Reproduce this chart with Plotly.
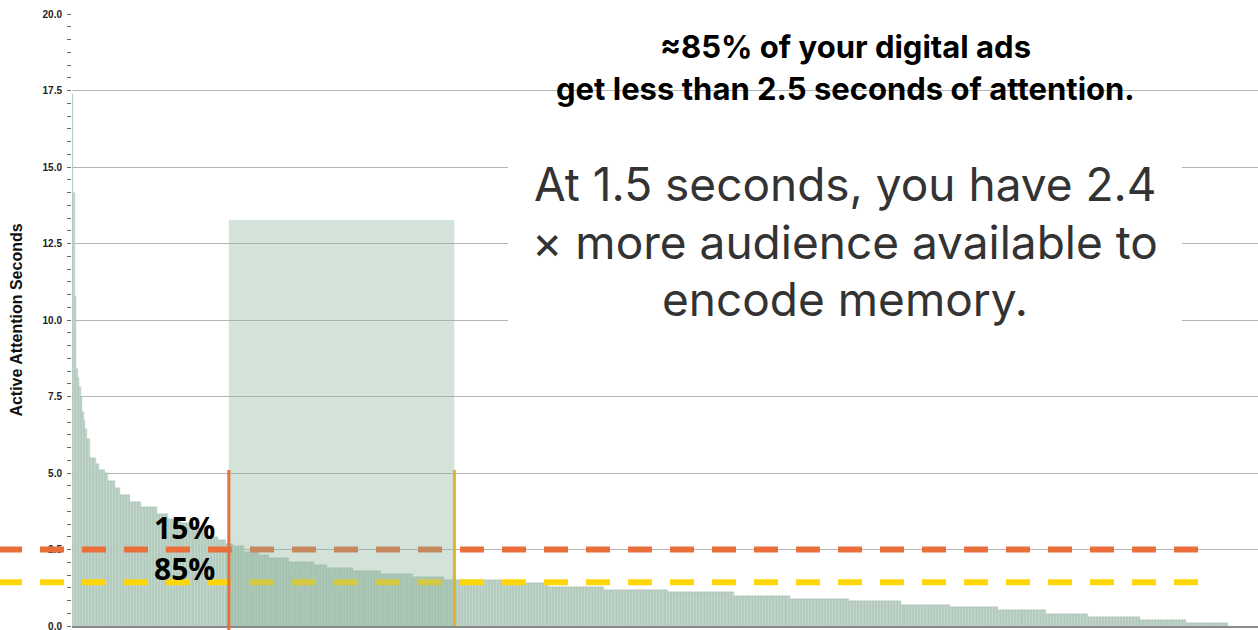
import numpy as np
import plotly.graph_objects as go

# Active attention per ad (seconds), sorted from highest to lowest.
# Stored run-length encoded: each level and how many ads sit at that level.
attention_levels = [17.4, 14.15, 10.8, 8.4, 8.1, 7.8, 7.5, 7.0, 6.7, 6.45,
                    6.1, 5.5, 5.3, 5.1, 5.0, 4.75, 4.5, 4.27, 4.05, 3.88,
                    3.65, 3.5, 3.38, 3.2, 2.91, 2.81, 2.68, 2.6, 2.42, 2.32,
                    2.22, 2.09, 1.99, 1.90, 1.80, 1.70, 1.60, 1.50, 1.42, 1.28,
                    1.18, 1.11, 0.99, 0.89, 0.81, 0.69, 0.61, 0.51, 0.39, 0.30,
                    0.21, 0.09]
ads_per_level = [1, 1, 1, 1, 1, 1, 1, 1, 1, 1,
                 2, 4, 2, 4, 2, 5, 3, 7, 7, 11,
                 7, 9, 9, 9, 7, 5, 5, 7, 10, 7,
                 13, 17, 9, 17, 19, 21, 21, 39, 31, 37,
                 43, 44, 38, 39, 35, 33, 32, 32, 28, 35,
                 31, 28]

# Attention thresholds (seconds)
upper_threshold = 2.5
lower_threshold = 1.43

# Ad-rank window between the two thresholds, and its marker heights
window_start_rank = 104.5
window_end_rank = 255.5
window_top = 13.27
marker_top = 5.1
marker_bottom = -0.13
dash_end_rank = 754

y_tick_values = [0, 2.5, 5, 7.5, 10, 12.5, 15, 17.5, 20]
y_tick_labels = ["0.0", "2.5", "5.0", "7.5", "10.0", "12.5", "15.0", "17.5", "20.0"]

attention = np.repeat(attention_levels, ads_per_level)
ranks = np.arange(len(attention))

X_RANGE = [-0.5, len(attention) - 0.5 + 20]
Y_RANGE = [0, 20]

W, H = 1258, 630
M = dict(l=72, r=0, t=14, b=4)
PLOT_W = W - M["l"] - M["r"]
PLOT_H = H - M["t"] - M["b"]


def x_dom(v):
    return (v - X_RANGE[0]) / (X_RANGE[1] - X_RANGE[0])


def y_dom(v):
    return (v - Y_RANGE[0]) / (Y_RANGE[1] - Y_RANGE[0])


def px_x(p):
    return (p - M["l"]) / PLOT_W


def px_y(p):
    return (H - M["b"] - p) / PLOT_H


ORANGE = "#E96E3A"
YELLOW = "#FFD60A"
GOLD = "#E0B232"

fig = go.Figure()
fig.add_trace(go.Bar(
    x=ranks, y=attention, width=1,
    marker=dict(color="#c6dccf", line=dict(color="#93ab9e", width=0.3)),
    hoverinfo="skip",
))

shapes = []
# threshold dashes, running from the left page edge across the chart
for level, color in [(upper_threshold, ORANGE), (lower_threshold, YELLOW)]:
    shapes.append(dict(
        type="line", xref="paper", yref="y domain",
        x0=px_x(-2), x1=x_dom(dash_end_rank), y0=y_dom(level), y1=y_dom(level),
        line=dict(color=color, width=6, dash="24px,18px"), layer="above",
    ))
# shaded window
shapes.append(dict(
    type="rect", xref="x domain", yref="y domain",
    x0=x_dom(window_start_rank), x1=x_dom(window_end_rank),
    y0=y_dom(0), y1=y_dom(window_top),
    fillcolor="rgba(142,181,155,0.38)", line=dict(width=0), layer="above",
))
# vertical markers at the window edges
shapes.append(dict(
    type="line", xref="x domain", yref="y domain",
    x0=x_dom(window_start_rank), x1=x_dom(window_start_rank),
    y0=y_dom(marker_bottom), y1=y_dom(marker_top),
    line=dict(color=ORANGE, width=3), layer="above",
))
shapes.append(dict(
    type="line", xref="x domain", yref="y domain",
    x0=x_dom(window_end_rank), x1=x_dom(window_end_rank),
    y0=y_dom(0), y1=y_dom(marker_top),
    line=dict(color=GOLD, width=3), layer="above",
))
# white panel behind the large statement
shapes.append(dict(
    type="rect", xref="paper", yref="paper",
    x0=px_x(508), x1=px_x(1182), y0=px_y(338), y1=px_y(132),
    fillcolor="white", line=dict(width=0), layer="above",
))

annotations = []
headline = ["≈85% of your digital ads", "get less than 2.5 seconds of attention."]
for text, py in zip(headline, [46, 88]):
    annotations.append(dict(
        text=text, xref="paper", yref="paper", x=px_x(845), y=px_y(py),
        xanchor="center", yanchor="middle", showarrow=False,
        font=dict(family="Inter", size=31, color="#000000", weight="bold"),
    ))
statement = ["At 1.5 seconds, you have 2.4", "× more audience available to", "encode memory."]
for text, py in zip(statement, [184, 242, 299]):
    annotations.append(dict(
        text=text, xref="paper", yref="paper", x=px_x(845), y=px_y(py),
        xanchor="center", yanchor="middle", showarrow=False,
        font=dict(family="Inter", size=46, color="#333333"),
    ))
for text, py in [("15%", 527), ("85%", 568)]:
    annotations.append(dict(
        text=text, xref="paper", yref="paper", x=px_x(184), y=px_y(py),
        xanchor="center", yanchor="middle", showarrow=False,
        font=dict(family="Open Sans", size=30, color="#000000", weight="bold"),
    ))

fig.update_layout(
    width=W, height=H, margin=dict(**M, pad=0, autoexpand=False),
    paper_bgcolor="white", plot_bgcolor="white",
    showlegend=False, bargap=0,
    shapes=shapes, annotations=annotations,
    xaxis=dict(
        range=X_RANGE, showgrid=False, zeroline=False, showticklabels=False,
        ticks="", showline=True, linecolor="#8a8a8a", linewidth=1.5,
        automargin=False,
    ),
    yaxis=dict(
        range=Y_RANGE, tickvals=y_tick_values, ticktext=y_tick_labels,
        automargin=False,
        showgrid=True, gridcolor="#b4b4b4", gridwidth=1.2, zeroline=False,
        showline=False, ticks="outside", ticklen=3, tickcolor="#666666",
        ticklabelstandoff=4, ticklabeloverflow="allow",
        tickfont=dict(family="Liberation Sans, Arial", size=10, color="#222222", weight="bold"),
        minor=dict(dtick=2.5 / 6, tick0=0, ticks="outside", ticklen=4,
                   tickcolor="#666666", showgrid=False),
        title=dict(text="Active Attention Seconds", standoff=15,
                   font=dict(family="Liberation Sans, Arial", size=16, color="#111111", weight="bold")),
    ),
)

fig.write_html("out.html")
